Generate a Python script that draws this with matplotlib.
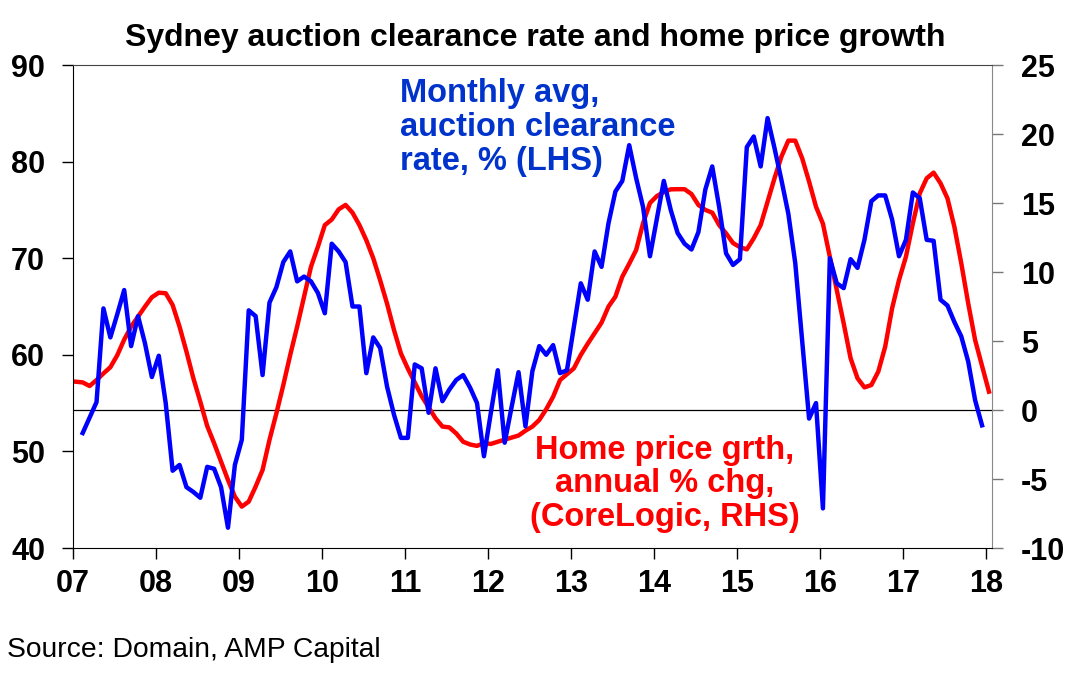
import numpy as np
import matplotlib
matplotlib.use("Agg")
import matplotlib.pyplot as plt

plt.rcParams['font.family'] = ['Liberation Sans', 'DejaVu Sans']
plt.rcParams['axes.unicode_minus'] = False

# ==========================================================
# Dados
# ==========================================================
# Taxa de liberação de leilões, média mensal, % (fev/2007 - dez/2017)
clearance = [
    51.9, 53.5, 55.1, 64.8, 61.8, 64.2, 66.7, 60.9, 64.0, 61.2, 57.7,
    59.9, 55.0, 48.0, 48.6, 46.3, 45.8, 45.2, 48.4, 48.2, 46.3, 42.1, 48.6,
    51.2, 64.6, 64.0, 57.9, 65.4, 67.0, 69.6, 70.7, 67.6, 68.1, 67.6, 66.4,
    64.3, 71.5, 70.7, 69.6, 65.0, 65.0, 58.1, 61.8, 60.7, 56.7, 53.8, 51.4,
    51.4, 59.0, 58.6, 54.0, 58.6, 55.2, 56.4, 57.4, 57.9, 56.6, 55.0, 49.5,
    54.0, 58.4, 50.9, 54.6, 58.2, 52.6, 58.3, 60.9, 60.0, 61.0, 58.1, 58.4,
    62.9, 67.4, 65.7, 70.7, 69.1, 73.6, 76.9, 78.0, 81.7, 78.3, 75.3, 70.2,
    74.1, 78.0, 75.0, 72.6, 71.5, 70.9, 72.7, 77.1, 79.5, 75.3, 70.5, 69.3,
    69.9, 81.5, 82.6, 79.5, 84.5, 81.4, 78.1, 74.6, 69.5, 61.5, 53.4, 55.0,
    44.1, 70.0, 67.4, 66.9, 69.9, 69.0, 71.9, 75.9, 76.5, 76.5, 74.0, 70.2,
    71.9, 76.8, 76.2, 71.9, 71.8, 65.7, 65.1, 63.4, 61.9, 59.3, 55.3, 52.7,
]

# Crescimento anual dos preços, % (jan/2007 - jan/2018)
price_growth = [
    2.05, 2.0, 1.74, 2.17, 2.65, 3.1, 3.97, 5.1, 6.04, 6.76, 7.49, 8.17,
    8.5, 8.46, 7.61, 6.04, 4.23, 2.3, 0.6, -1.16, -2.41, -3.75, -5.07, -6.28,
    -7.0, -6.64, -5.55, -4.35, -2.17, -0.24, 1.81, 3.99, 6.04, 8.21, 10.38, 11.83,
    13.4, 13.8, 14.54, 14.86, 14.3, 13.4, 12.3, 11.0, 9.4, 7.7, 5.8, 4.1,
    3.0, 2.0, 1.0, 0.2, -0.6, -1.2, -1.26, -1.7, -2.3, -2.5, -2.6, -2.4,
    -2.46, -2.3, -2.15, -2.0, -1.85, -1.5, -1.2, -0.72, 0.05, 0.96, 2.17, 2.6,
    3.02, 3.99, 4.8, 5.56, 6.33, 7.49, 8.21, 9.66, 10.6, 11.59, 13.53, 15.0,
    15.5, 15.8, 15.99, 16.0, 16.0, 15.65, 14.86, 14.5, 14.3, 13.4, 12.8, 12.1,
    11.8, 11.64, 12.44, 13.4, 15.1, 16.79, 18.36, 19.52, 19.52, 18.24, 16.55, 14.73,
    13.5, 11.11, 8.7, 6.28, 3.75, 2.3, 1.64, 1.81, 2.78, 4.59, 7.37, 9.42,
    11.11, 13.53, 15.7, 16.79, 17.2, 16.43, 15.34, 13.28, 10.63, 7.73, 5.07, 3.2,
    1.33,
]

anos = list(range(2007, 2019))
rotulos = ['07', '08', '09', '10', '11', '12', '13', '14', '15', '16', '17', '18']

# datas em anos decimais (meio do mês)
t_clear = 2007 + (np.arange(len(clearance)) + 1 + 0.4) / 12
t_price = 2007 + (np.arange(len(price_growth)) + 0.4) / 12

# ==========================================================
# PLOT
# ==========================================================
fig = plt.figure(figsize=(10.73, 6.85), dpi=100)
ax = fig.add_axes([73 / 1073, 1 - 548 / 685, (992 - 73) / 1073, (548 - 65) / 685])
ax2 = ax.twinx()

ax2.axhline(0, color='black', lw=0.9, zorder=1)
ax2.plot(t_price, price_growth, color='#ff0000', lw=3.2, zorder=3)
ax.plot(t_clear, clearance, color='#0000ff', lw=3.2, zorder=4)
ax.set_zorder(ax2.get_zorder() + 1)
ax.patch.set_visible(False)

ax.set_xlim(2007, 2018.07)
ax.set_ylim(40, 90)
ax2.set_ylim(-10, 25)
ax.set_xticks(anos)
ax.set_xticklabels(rotulos)
ax.set_yticks(range(40, 91, 10))
ax2.set_yticks(range(-10, 26, 5))

for a in (ax, ax2):
    a.tick_params(axis='both', direction='out', length=8, width=1, labelsize=22)
    for lbl in a.get_xticklabels() + a.get_yticklabels():
        lbl.set_fontweight('bold')
ax.tick_params(axis='y', pad=12)
ax.tick_params(axis='x', pad=7)
ax2.tick_params(axis='y', pad=13, color='#777777')

for s in ax2.spines.values():
    s.set_visible(False)
ax.spines['right'].set_color('#888888')
ax.spines['top'].set_color('#444444')

fig.text(535 / 1073, 1 - 38 / 685, 'Sydney auction clearance rate and home price growth',
         ha='center', va='center', fontsize=23, fontweight='bold')

fig.text(400 / 1073, 1 - 78 / 685, 'Monthly avg,\nauction clearance\nrate, % (LHS)',
         ha='left', va='top', fontsize=23.5, fontweight='bold', color='#0033cc',
         linespacing=1.13)

fig.text(665 / 1073, 1 - 435 / 685, 'Home price grth,\nannual % chg,\n(CoreLogic, RHS)',
         ha='center', va='top', fontsize=23.5, fontweight='bold', color='#ff0000',
         linespacing=1.1)

fig.text(7 / 1073, 1 - 650 / 685, 'Source: Domain, AMP Capital',
         ha='left', va='center', fontsize=20.3)

fig.savefig('out.png', dpi=100)
